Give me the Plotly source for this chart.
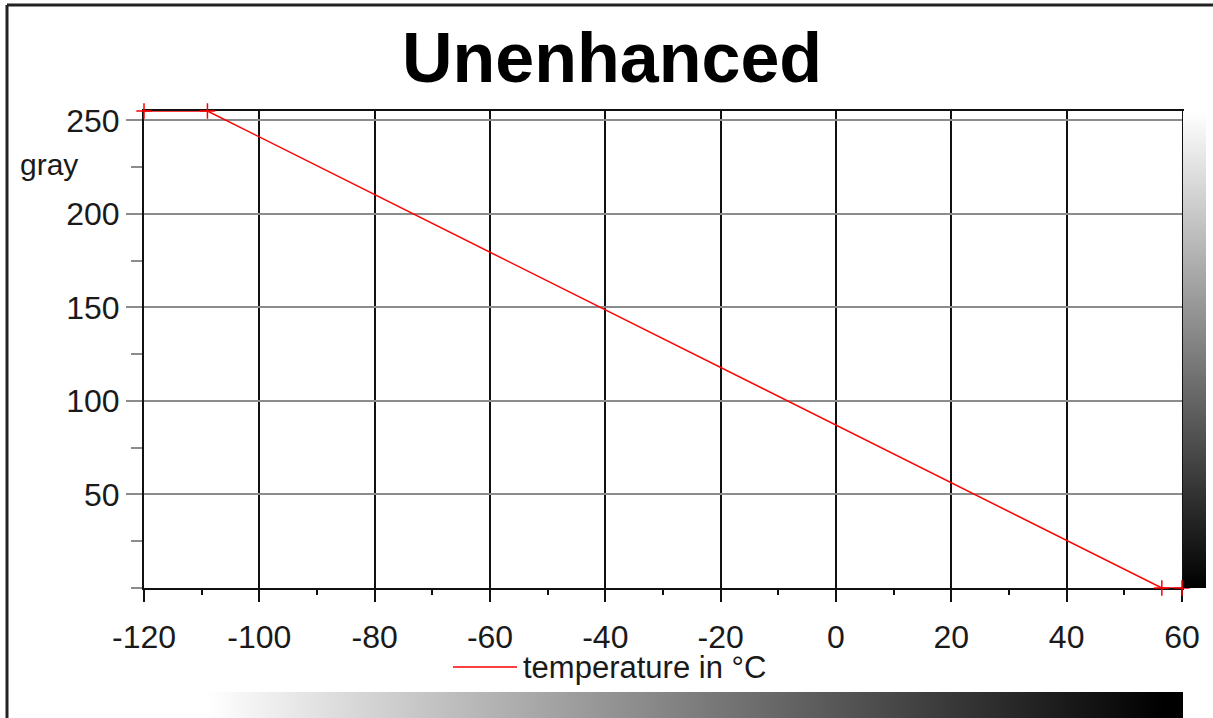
import plotly.graph_objs as go

# figure size in px, every domain below is a fraction of it
W: int = 1213
H: int = 718

# curve: temperature (°C) -> gray value
temperature: list = [-120, -109, 56.5, 60]
gray_value: list = [255, 255, 0, 0]

# gray ramps drawn as the two colour bars
ramp_temperature: list = [-109, 56.5]
ramp_gray_on_temperature: list = [255, 0]
ramp_gray_levels: list = [0, 255]

x_tick_values: list = [-120, -100, -80, -60, -40, -20, 0, 20, 40, 60]
x_tick_labels: list = ["-120", "-100", "-80", "-60", "-40", "-20", "0", "20", "40", "60"]
y_tick_values: list = [50, 100, 150, 200, 250]

FONT: str = "Liberation Sans, Arial, sans-serif"
GRAY_SCALE: list = [[0, "black"], [1, "white"]]


def px_x(p: float) -> float:
    return p / W


def px_y(p: float) -> float:
    return 1 - p / H


curve = go.Scatter(x=temperature, y=gray_value, mode="lines+markers",
                   line=dict(color="#ff0000", width=1.5),
                   marker=dict(symbol="cross-thin", size=11, line=dict(color="#ff0000", width=1.5)),
                   cliponaxis=False, showlegend=False, hoverinfo="x+y")

# horizontal ramp under the plot, laid on the temperature scale
bottom_ramp = go.Heatmap(x=ramp_temperature, y=[0], z=[ramp_gray_on_temperature], xaxis="x2", yaxis="y2",
                         zsmooth="best", colorscale=GRAY_SCALE, zmin=0, zmax=255, showscale=False,
                         hoverinfo="skip")

# vertical ramp right of the plot, laid on the gray scale
right_ramp = go.Heatmap(x=[0], y=ramp_gray_levels, z=[[v] for v in ramp_gray_levels], xaxis="x3", yaxis="y3",
                        zsmooth="best", colorscale=GRAY_SCALE, zmin=0, zmax=255, showscale=False,
                        hoverinfo="skip")

main_x_domain = [px_x(144), px_x(1182)]
main_y_domain = [px_y(588), px_y(111)]

hidden_axis = dict(visible=False, fixedrange=True, automargin=False)

layout = go.Layout(
    width=W, height=H, autosize=False,
    margin=dict(l=0, r=0, t=0, b=0, autoexpand=False),
    paper_bgcolor="white", plot_bgcolor="rgba(0,0,0,0)",
    font=dict(family=FONT, size=31, color="#1a1a1a"),
    xaxis=dict(domain=main_x_domain, range=[-120, 60], tickvals=x_tick_values, ticktext=x_tick_labels,
               showgrid=True, gridcolor="#111111", gridwidth=2, zeroline=False,
               showline=True, linecolor="#111111", linewidth=2, mirror=True, layer="below traces",
               ticks="outside", ticklen=12, tickwidth=2, tickcolor="#111111", ticklabelstandoff=8,
               minor=dict(dtick=10, tick0=0, ticks="outside", ticklen=5, tickwidth=2, tickcolor="#111111",
                          showgrid=False),
               tickfont=dict(family=FONT, size=32), fixedrange=True, automargin=False),
    yaxis=dict(domain=main_y_domain, range=[0, 255], tickvals=y_tick_values,
               showgrid=True, gridcolor="#8c8c8c", gridwidth=2, zeroline=False,
               showline=True, linecolor="#111111", linewidth=2, mirror=True, layer="below traces",
               ticks="outside", ticklen=16, tickwidth=2, tickcolor="#8c8c8c",
               minor=dict(dtick=25, tick0=0, ticks="outside", ticklen=11, tickwidth=2, tickcolor="#8c8c8c",
                          showgrid=False),
               tickfont=dict(family=FONT, size=32), fixedrange=True, automargin=False),
    xaxis2=dict(domain=[px_x(144), px_x(1183)], range=[-120, 60], anchor="y2", **hidden_axis),
    yaxis2=dict(domain=[0, px_y(692)], range=[-0.5, 0.5], anchor="x2", **hidden_axis),
    xaxis3=dict(domain=[px_x(1183), px_x(1206)], range=[-0.5, 0.5], anchor="y3", **hidden_axis),
    yaxis3=dict(domain=main_y_domain, range=[0, 255], anchor="x3", **hidden_axis),
    annotations=[
        dict(text="Unenhanced", x=px_x(612), y=px_y(58), xref="paper", yref="paper",
             xanchor="center", yanchor="middle", showarrow=False,
             font=dict(family=FONT, size=70, weight="bold", color="black")),
        dict(text="gray", x=px_x(18), y=px_y(165), xref="paper", yref="paper",
             xanchor="left", yanchor="middle", showarrow=False, font=dict(family=FONT, size=30)),
        dict(text="temperature in °C", x=px_x(521), y=px_y(667), xref="paper", yref="paper",
             xanchor="left", yanchor="middle", showarrow=False, font=dict(family=FONT, size=31)),
    ],
    shapes=[
        # legend sample line
        dict(type="line", xref="paper", yref="paper", x0=px_x(453), x1=px_x(517), y0=px_y(667), y1=px_y(667),
             line=dict(color="#ff0000", width=1.5)),
        # window frame, left and top edges
        dict(type="line", xref="paper", yref="paper", x0=px_x(7), x1=px_x(7), y0=px_y(5), y1=0,
             line=dict(color="#222222", width=3)),
        dict(type="line", xref="paper", yref="paper", x0=px_x(7), x1=1, y0=px_y(5), y1=px_y(5),
             line=dict(color="#222222", width=3)),
    ],
)

fig = go.Figure([bottom_ramp, right_ramp, curve], layout)
# drop the browser's default body margin so the figure sits at the window corner
fig.write_html("out.html", config={"displayModeBar": False},
               post_script="document.body.style.margin='0';")
